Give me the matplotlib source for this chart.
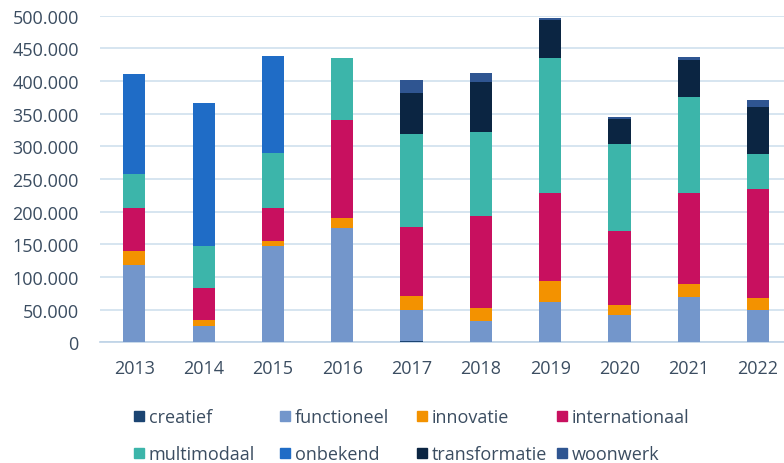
import numpy as np
import matplotlib.pyplot as plt
from matplotlib.ticker import FuncFormatter
from matplotlib.patches import Rectangle

plt.rcParams['font.family'] = ['Open Sans', 'DejaVu Sans']

jaren = ['2013', '2014', '2015', '2016', '2017', '2018', '2019', '2020', '2021', '2022']

# waarden per categorie (gestapeld, van onder naar boven)
creatief      = [0, 0, 0, 0, 2000, 0, 0, 0, 0, 0]
functioneel   = [119000, 25000, 147000, 175000, 48000, 33000, 62000, 42000, 70000, 50000]
innovatie     = [21000, 9000, 8000, 16000, 21000, 19000, 32000, 15000, 19000, 18000]
internationaal = [66000, 49000, 50000, 149000, 105000, 141000, 134000, 114000, 139000, 166000]
multimodaal   = [51000, 64000, 85000, 95000, 143000, 129000, 208000, 133000, 147000, 55000]
onbekend      = [153000, 219000, 149000, 0, 0, 0, 0, 0, 0, 0]
transformatie = [0, 0, 0, 0, 62000, 77000, 57000, 38000, 57000, 71000]
woonwerk      = [0, 0, 0, 0, 20000, 13000, 4000, 3000, 5000, 11000]

reeksen = [
    ('creatief', creatief, '#1b4472'),
    ('functioneel', functioneel, '#7396cb'),
    ('innovatie', innovatie, '#f39200'),
    ('internationaal', internationaal, '#c8105f'),
    ('multimodaal', multimodaal, '#3cb5aa'),
    ('onbekend', onbekend, '#1f6cc6'),
    ('transformatie', transformatie, '#0b2542'),
    ('woonwerk', woonwerk, '#2f5591'),
]

tekstkleur = '#3b4d61'
W, H = 784, 464

fig = plt.figure(figsize=(7.84, 4.64), dpi=100)
ax = fig.add_axes([99.7 / W, 1 - 343.3 / H, (W - 99.7) / W, 326.6 / H])

x = np.arange(len(jaren))
bodem = np.zeros(len(jaren))
for naam, waarden, kleur in reeksen:
    w = np.array(waarden, dtype=float)
    ax.bar(x, w, width=0.32, bottom=bodem, color=kleur, zorder=3)
    bodem += w

ax.set_xlim(-0.5, 9.375)
ax.set_ylim(0, 500000)
ax.set_yticks(np.arange(0, 500001, 50000))
ax.yaxis.set_major_formatter(FuncFormatter(lambda v, p: '0' if v == 0 else f'{int(v):,}'.replace(',', '.')))
ax.set_xticks(x)
ax.set_xticklabels(jaren)

ax.grid(axis='y', color='#cfe0ee', linewidth=1.2, zorder=0)
for s in ['top', 'right', 'left']:
    ax.spines[s].set_visible(False)
ax.spines['bottom'].set_color('#bdd2e6')
ax.spines['bottom'].set_linewidth(1.2)
ax.tick_params(axis='both', length=0, labelsize=13, colors=tekstkleur)
ax.tick_params(axis='y', pad=15)
ax.tick_params(axis='x', pad=12)

# legenda handmatig in 2 rijen x 4 kolommen
kol_x = [134, 280, 417, 557]
rij_y = [417, 454]
for i, (naam, waarden, kleur) in enumerate(reeksen):
    px = kol_x[i % 4]
    py = rij_y[i // 4]
    fig.add_artist(Rectangle((px / W, 1 - (py + 5) / H), 10 / W, 10 / H,
                             transform=fig.transFigure, color=kleur))
    fig.text((px + 15) / W, 1 - (py + 1) / H, naam, fontsize=13, color=tekstkleur,
             va='center', ha='left')

fig.savefig('out.png', dpi=100)
